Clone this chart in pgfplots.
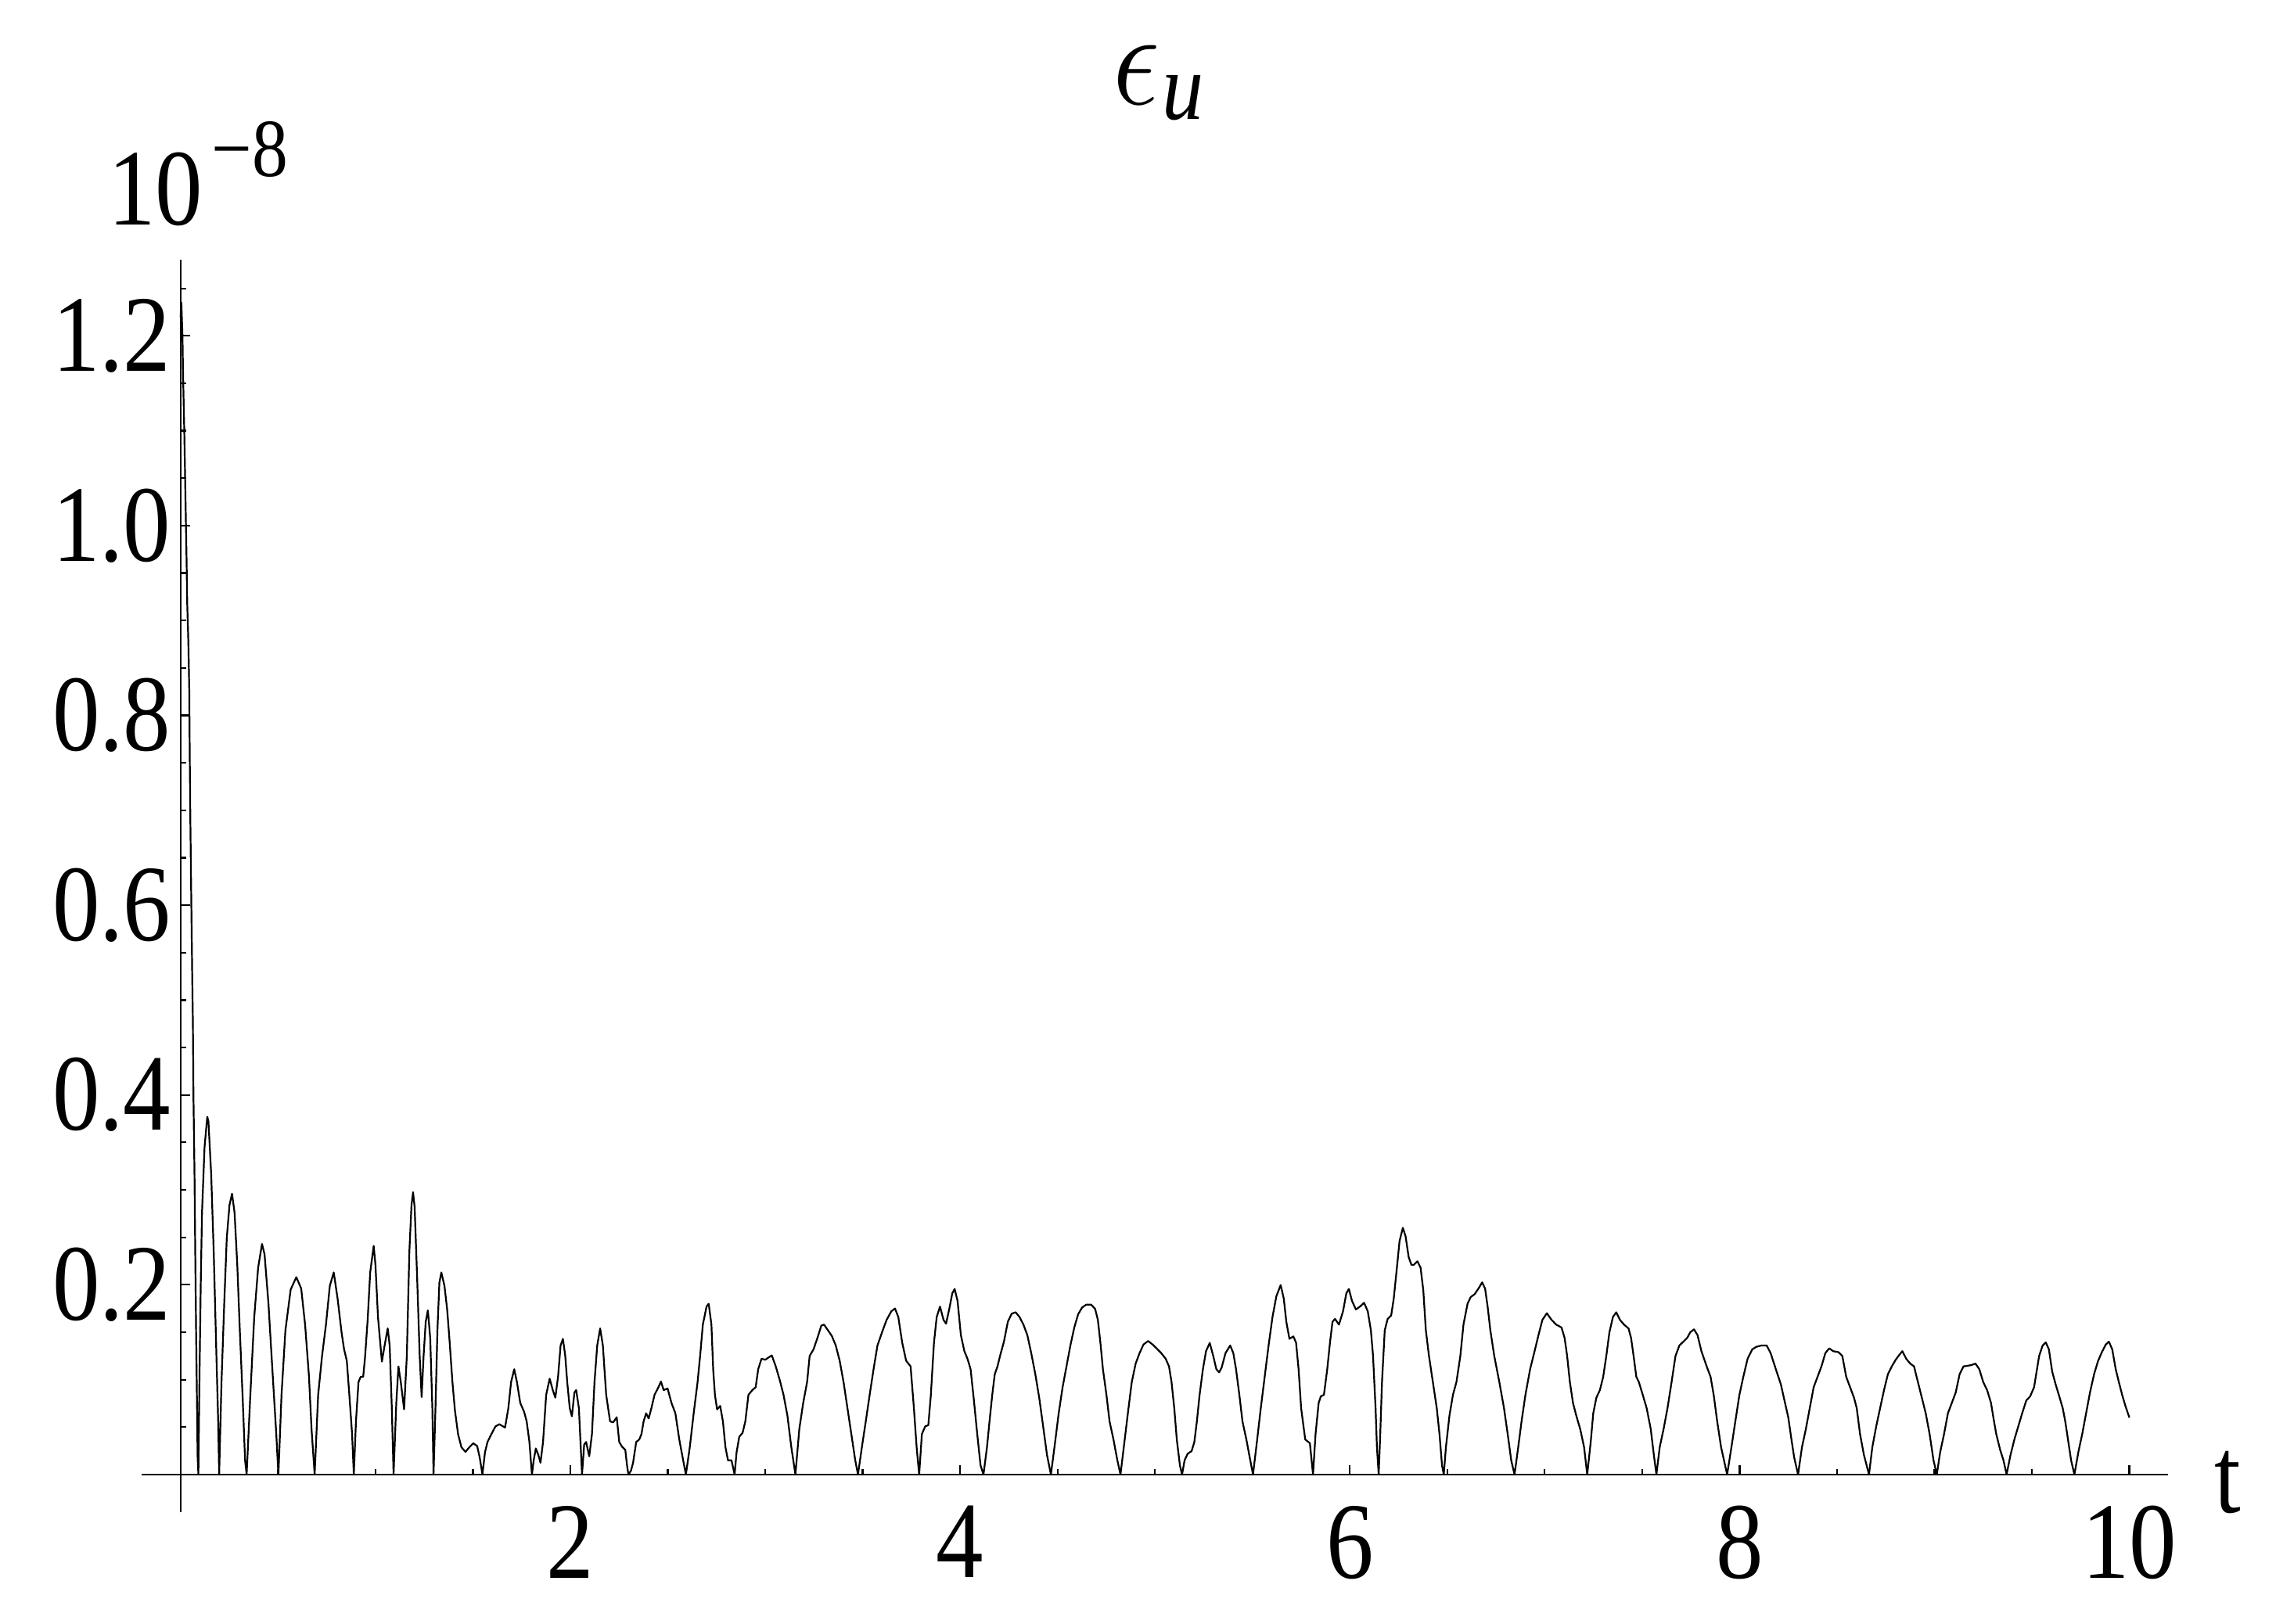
\documentclass[border=0pt]{standalone}
\usepackage{fontspec}
\setmainfont{Liberation Serif}
\usepackage{graphicx}
\usepackage{pgfplots}
\pgfplotsset{compat=1.18}

% the reference glyphs are a little taller than Times, so stretch them
\newcommand{\st}[1]{\scalebox{1}[1.15]{#1}}
\newcommand{\lbfont}{\fontsize{16.5}{19}\selectfont}

\pgfplotstableread{
x y
0 1.22
0.004 1.235
0.0098 1.20
0.0124 1.163
0.019 1.10
0.023 1.054
0.027 1.008
0.031 0.961
0.034 0.919
0.040 0.877
0.0446 0.827
0.047 0.76
0.050 0.693
0.0553 0.60
0.0593 0.533
0.0633 0.474
0.066 0.40
0.0713 0.32
0.0753 0.235
0.0793 0.157
0.0834 0.089
0.0874 0.019
0.0914 0
0.0967 0.0975
0.1034 0.199
0.110 0.276
0.123 0.345
0.137 0.377
0.143 0.372
0.157 0.317
0.170 0.235
0.184 0.125
0.193 0.056
0.198 0
0.210 0.0975
0.224 0.180
0.237 0.249
0.251 0.284
0.264 0.296
0.277 0.276
0.291 0.221
0.304 0.152
0.318 0.084
0.331 0.015
0.339 0
0.358 0.084
0.378 0.166
0.398 0.218
0.418 0.243
0.431 0.232
0.451 0.180
0.471 0.111
0.491 0.043
0.502 0
0.518 0.084
0.538 0.152
0.565 0.195
0.594 0.208
0.619 0.196
0.639 0.158
0.659 0.103
0.672 0.048
0.688 0
0.706 0.084
0.726 0.125
0.746 0.158
0.766 0.199
0.786 0.213
0.806 0.185
0.826 0.150
0.839 0.132
0.853 0.120
0.866 0.084
0.880 0.043
0.889 0
0.900 0.056
0.913 0.0975
0.924 0.103
0.937 0.103
0.946 0.122
0.960 0.163
0.973 0.213
0.991 0.241
1.000 0.221
1.013 0.166
1.033 0.119
1.047 0.136
1.063 0.154
1.073 0.136
1.084 0.070
1.093 0
1.107 0.0755
1.118 0.114
1.130 0.0975
1.147 0.0687
1.161 0.125
1.174 0.235
1.185 0.284
1.193 0.2975
1.201 0.282
1.214 0.207
1.227 0.125
1.237 0.0816
1.247 0.125
1.258 0.161
1.269 0.173
1.281 0.144
1.292 0.070
1.298 0
1.308 0.070
1.318 0.152
1.328 0.202
1.338 0.213
1.354 0.199
1.368 0.174
1.381 0.139
1.395 0.0975
1.408 0.0673
1.424 0.0426
1.441 0.0288
1.462 0.0239
1.482 0.0288
1.502 0.033
1.522 0.030
1.535 0.0179
1.549 0
1.562 0.0234
1.575 0.0343
1.595 0.0426
1.616 0.0508
1.636 0.053
1.665 0.0495
1.682 0.070
1.696 0.0975
1.712 0.111
1.726 0.0975
1.743 0.0755
1.763 0.066
1.776 0.056
1.790 0.0343
1.803 0
1.812 0.015
1.823 0.0275
1.836 0.0206
1.847 0.0124
1.860 0.0343
1.876 0.084
1.894 0.101
1.910 0.089
1.923 0.081
1.937 0.103
1.950 0.136
1.962 0.143
1.974 0.125
1.984 0.0975
1.997 0.070
2.008 0.0613
2.021 0.0865
2.030 0.089
2.044 0.070
2.060 0
2.071 0.0316
2.081 0.0343
2.097 0.0192
2.111 0.0426
2.124 0.0975
2.138 0.136
2.153 0.154
2.167 0.136
2.184 0.084
2.204 0.056
2.220 0.055
2.238 0.0604
2.251 0.0343
2.265 0.0294
2.282 0.026
2.291 0.0096
2.298 0
2.311 0.004
2.322 0.0124
2.338 0.0343
2.354 0.037
2.365 0.0426
2.376 0.056
2.389 0.0646
2.402 0.059
2.416 0.070
2.432 0.084
2.452 0.092
2.465 0.098
2.479 0.089
2.499 0.0907
2.519 0.0755
2.539 0.0646
2.559 0.037
2.579 0.015
2.593 0
2.613 0.0288
2.633 0.0646
2.653 0.0975
2.666 0.125
2.680 0.158
2.699 0.177
2.710 0.180
2.724 0.158
2.733 0.111
2.742 0.084
2.753 0.0687
2.769 0.0723
2.783 0.056
2.796 0.0288
2.809 0.015
2.827 0.015
2.843 0
2.853 0.0234
2.867 0.0398
2.884 0.044
2.898 0.056
2.914 0.084
2.934 0.089
2.951 0.092
2.964 0.111
2.981 0.122
3.001 0.121
3.014 0.123
3.034 0.1255
3.054 0.114
3.074 0.100
3.094 0.084
3.114 0.062
3.134 0.0288
3.155 0
3.175 0.048
3.195 0.0755
3.215 0.0975
3.228 0.125
3.248 0.132
3.268 0.144
3.288 0.157
3.302 0.158
3.322 0.152
3.342 0.146
3.362 0.136
3.382 0.120
3.402 0.0975
3.422 0.070
3.442 0.0426
3.462 0.015
3.476 0
3.496 0.0288
3.516 0.056
3.536 0.084
3.556 0.111
3.576 0.136
3.603 0.152
3.623 0.163
3.647 0.172
3.666 0.175
3.683 0.166
3.703 0.139
3.723 0.120
3.746 0.114
3.763 0.070
3.777 0.0288
3.790 0
3.804 0.0426
3.821 0.0508
3.837 0.052
3.850 0.084
3.866 0.139
3.880 0.166
3.897 0.177
3.915 0.163
3.928 0.159
3.944 0.174
3.960 0.191
3.972 0.1956
3.987 0.183
4.004 0.147
4.022 0.130
4.038 0.122
4.054 0.111
4.071 0.078
4.088 0.0426
4.105 0.0096
4.120 0
4.138 0.0288
4.151 0.056
4.165 0.084
4.178 0.1058
4.192 0.114
4.205 0.125
4.225 0.140
4.245 0.161
4.265 0.1695
4.285 0.171
4.305 0.166
4.325 0.158
4.345 0.147
4.365 0.128
4.386 0.1058
4.406 0.081
4.426 0.051
4.446 0.0206
4.466 0
4.486 0.0316
4.506 0.0646
4.526 0.092
4.546 0.114
4.566 0.136
4.586 0.155
4.606 0.169
4.626 0.176
4.647 0.179
4.673 0.179
4.693 0.1745
4.707 0.163
4.720 0.139
4.733 0.111
4.751 0.084
4.767 0.056
4.787 0.037
4.807 0.015
4.823 0
4.840 0.0288
4.861 0.0646
4.881 0.0975
4.901 0.117
4.921 0.128
4.941 0.137
4.965 0.1407
4.988 0.137
5.008 0.133
5.032 0.128
5.055 0.122
5.072 0.114
5.085 0.0975
5.099 0.070
5.112 0.037
5.128 0.0096
5.139 0
5.152 0.015
5.168 0.022
5.188 0.0247
5.202 0.0343
5.215 0.056
5.229 0.084
5.246 0.111
5.262 0.130
5.281 0.1387
5.299 0.125
5.315 0.111
5.329 0.1077
5.342 0.1126
5.362 0.128
5.386 0.136
5.402 0.128
5.416 0.111
5.433 0.084
5.449 0.056
5.469 0.037
5.489 0.015
5.503 0
5.523 0.0343
5.543 0.070
5.563 0.103
5.583 0.136
5.603 0.166
5.623 0.188
5.645 0.1997
5.661 0.1854
5.674 0.161
5.690 0.143
5.710 0.1456
5.724 0.139
5.737 0.111
5.750 0.070
5.771 0.037
5.795 0.033
5.811 0
5.824 0.0426
5.840 0.0755
5.851 0.0824
5.867 0.084
5.884 0.111
5.898 0.139
5.911 0.161
5.924 0.164
5.944 0.158
5.965 0.172
5.982 0.191
5.995 0.1956
6.011 0.183
6.031 0.174
6.052 0.177
6.073 0.181
6.092 0.172
6.108 0.152
6.119 0.125
6.132 0.070
6.139 0.0288
6.148 0
6.156 0.0426
6.165 0.0975
6.179 0.152
6.194 0.164
6.212 0.1676
6.225 0.185
6.239 0.213
6.255 0.246
6.272 0.260
6.286 0.251
6.302 0.229
6.316 0.221
6.328 0.221
6.347 0.2247
6.363 0.218
6.377 0.194
6.390 0.152
6.406 0.125
6.426 0.0975
6.446 0.070
6.460 0.0426
6.473 0.0096
6.482 0
6.493 0.0288
6.511 0.062
6.529 0.084
6.547 0.0975
6.567 0.125
6.583 0.158
6.604 0.180
6.620 0.187
6.640 0.190
6.660 0.196
6.679 0.2025
6.694 0.196
6.707 0.177
6.721 0.152
6.741 0.125
6.767 0.0975
6.791 0.070
6.810 0.0426
6.828 0.015
6.845 0
6.864 0.0288
6.881 0.056
6.901 0.084
6.925 0.111
6.948 0.130
6.968 0.147
6.988 0.163
7.011 0.170
7.035 0.163
7.059 0.158
7.086 0.155
7.102 0.144
7.115 0.125
7.129 0.0975
7.145 0.0755
7.162 0.062
7.182 0.048
7.202 0.0288
7.218 0
7.236 0.0343
7.249 0.0646
7.265 0.081
7.283 0.089
7.300 0.103
7.316 0.125
7.332 0.150
7.350 0.166
7.367 0.171
7.386 0.163
7.407 0.158
7.430 0.154
7.443 0.144
7.456 0.125
7.470 0.103
7.483 0.0975
7.503 0.084
7.523 0.070
7.544 0.048
7.560 0.0206
7.573 0
7.590 0.0288
7.610 0.048
7.630 0.070
7.651 0.0975
7.671 0.125
7.691 0.136
7.711 0.140
7.731 0.144
7.747 0.150
7.766 0.153
7.784 0.147
7.804 0.130
7.831 0.114
7.851 0.103
7.867 0.084
7.885 0.056
7.905 0.0288
7.936 0
7.958 0.0288
7.978 0.056
7.999 0.084
8.019 0.103
8.041 0.122
8.065 0.132
8.086 0.1346
8.112 0.136
8.139 0.136
8.159 0.128
8.186 0.111
8.212 0.0948
8.233 0.0755
8.250 0.060
8.266 0.037
8.280 0.018
8.300 0
8.320 0.0288
8.340 0.048
8.360 0.070
8.380 0.092
8.400 0.103
8.420 0.114
8.440 0.128
8.460 0.133
8.480 0.130
8.507 0.129
8.527 0.125
8.547 0.103
8.567 0.092
8.587 0.081
8.601 0.070
8.618 0.0426
8.638 0.0206
8.664 0
8.681 0.0288
8.701 0.0508
8.721 0.070
8.741 0.089
8.761 0.1058
8.781 0.114
8.801 0.121
8.819 0.126
8.835 0.130
8.855 0.122
8.875 0.117
8.895 0.114
8.915 0.0975
8.935 0.081
8.955 0.0646
8.975 0.0426
8.995 0.015
9.012 0
9.029 0.0234
9.049 0.0426
9.069 0.0646
9.089 0.0755
9.109 0.0865
9.129 0.1058
9.149 0.114
9.170 0.1146
9.190 0.1154
9.210 0.117
9.230 0.111
9.250 0.0975
9.270 0.089
9.290 0.0755
9.303 0.059
9.317 0.0426
9.337 0.026
9.354 0.015
9.370 0
9.390 0.0206
9.410 0.037
9.430 0.0508
9.450 0.0646
9.471 0.078
9.491 0.0824
9.511 0.092
9.524 0.1085
9.537 0.125
9.555 0.136
9.571 0.1393
9.587 0.132
9.604 0.1085
9.622 0.0948
9.638 0.084
9.658 0.070
9.671 0.056
9.685 0.037
9.701 0.015
9.718 0
9.738 0.0234
9.758 0.0426
9.778 0.0646
9.798 0.0865
9.819 0.1058
9.839 0.1195
9.859 0.129
9.879 0.137
9.895 0.140
9.912 0.132
9.930 0.111
9.946 0.0975
9.963 0.084
9.979 0.0728
10.0 0.060
}\errdata

\begin{document}
\begin{tikzpicture}
\path[use as bounding box] (-24.69pt,-19.44pt) rectangle (375.31pt,263.78pt);
\begin{axis}[
  at={(0pt,0pt)}, anchor=south west,
  scale only axis,
  width=353.4pt, height=218.45pt,
  xmin=-0.2, xmax=10.2, ymin=-0.04, ymax=1.28,
  axis lines=middle,
  axis line style={-, line width=0.3pt},
  tick align=inside,
  major tick length=1.6pt, minor tick length=1pt,
  every tick/.style={line width=0.3pt, black},
  xtick={2,4,6,8,10},
  xticklabels={\st{2},\st{4},\st{6},\st{8},\st{10}},
  minor xtick={0.5,1,1.5,2.5,3,3.5,4.5,5,5.5,6.5,7,7.5,8.5,9,9.5},
  ytick={0.2,0.4,0.6,0.8,1.0,1.2},
  yticklabels={\st{0.2},\st{0.4},\st{0.6},\st{0.8},\st{1.0},\st{1.2}},
  minor ytick={0.05,0.1,0.15,0.25,0.3,0.35,0.45,0.5,0.55,0.65,0.7,0.75,0.85,0.9,0.95,1.05,1.1,1.15,1.25},
  xticklabel style={font=\lbfont, anchor=north, inner sep=0pt, yshift=-5.3pt},
  yticklabel style={font=\lbfont, anchor=east, inner sep=0pt, xshift=-1.5pt},
  clip=false,
]
\addplot[black, line width=0.3pt, line join=round] table {\errdata};
\end{axis}
% axis labels and the exponent, placed as in the reference
\node[anchor=base west, inner sep=0pt, font=\lbfont] at (-6pt,224.6pt)
  {\st{10\hspace{1.5pt}\raisebox{7.3pt}{\fontsize{12.5}{14}\selectfont −8}}};
\node[anchor=base west, inner sep=0pt, font=\lbfont] at (361.2pt,0pt) {\st{t}};
\node[anchor=base, inner sep=0pt] at (177.3pt,245.5pt)
  {\st{\fontsize{21.5}{24}\selectfont$\epsilon$\hspace{0.5pt}\raisebox{-2.2pt}{\fontsize{14.5}{17}\selectfont\itshape u}}};
\end{tikzpicture}
\end{document}
